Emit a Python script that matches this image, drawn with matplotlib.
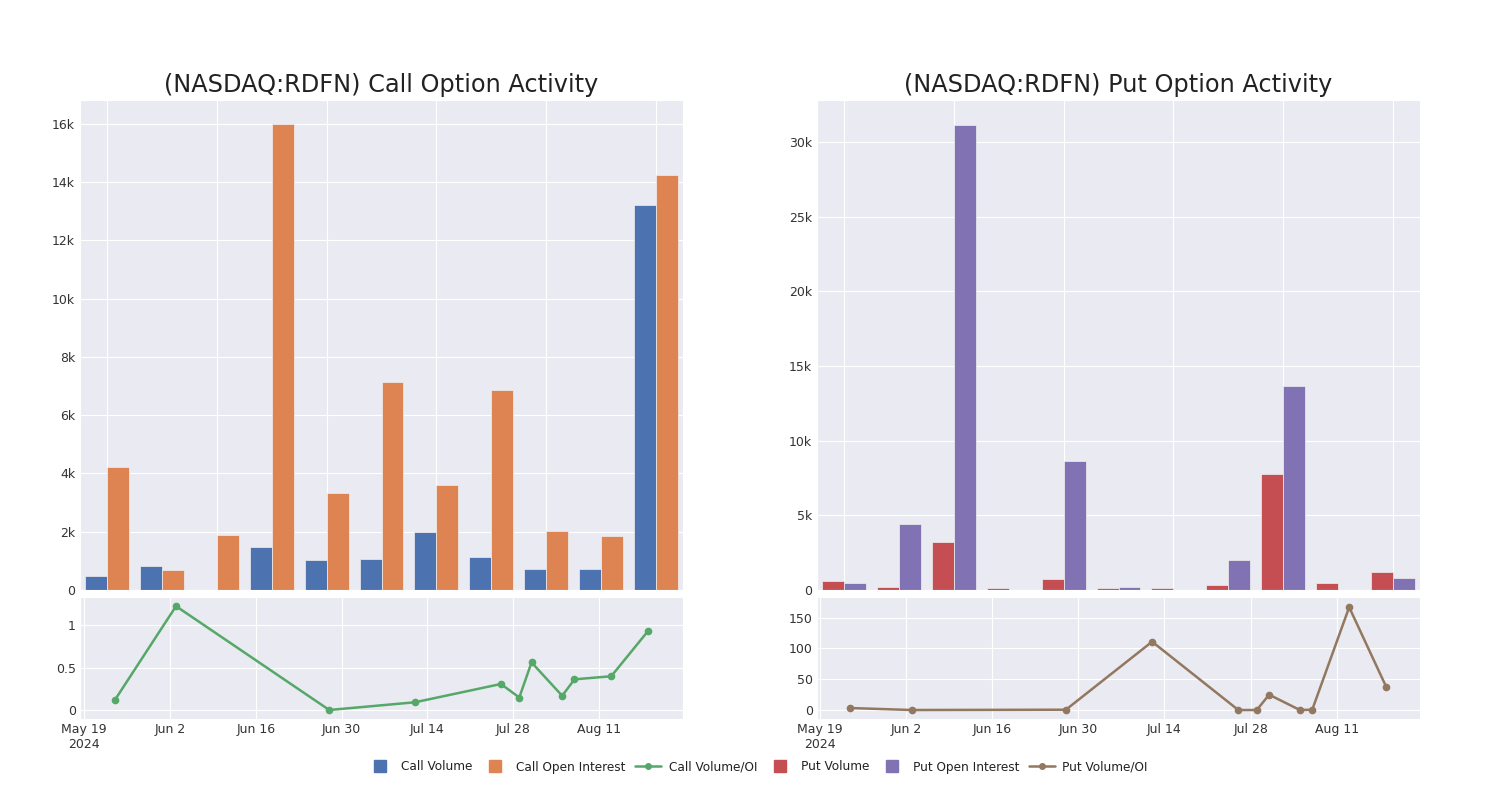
import numpy as np
import pandas as pd
import matplotlib
matplotlib.use("Agg")
import matplotlib.pyplot as plt
from matplotlib.lines import Line2D
from matplotlib.ticker import FuncFormatter
import seaborn as sns

# ---------------- data ----------------
call_volume = [480, 820, 0, 1460, 1030, 1050, 1990, 1120, 730, 730, 13200]
call_oi = [4210, 670, 1900, 15980, 3330, 7130, 3590, 6850, 2040, 1850, 14230]
put_volume = [620, 170, 3180, 130, 760, 120, 130, 330, 7750, 470, 1220]
put_oi = [490, 4430, 31160, 0, 8640, 210, 0, 2000, 13630, 0, 780]

ratio_dates = ["2024-05-24", "2024-06-03", "2024-06-28", "2024-07-12", "2024-07-26",
               "2024-07-29", "2024-07-31", "2024-08-05", "2024-08-07", "2024-08-13",
               "2024-08-19"]
call_ratio = [0.115, 1.222, 0.0, 0.091, 0.306, 0.147, 0.56, 0.167, 0.361, 0.397, 0.929]
put_ratio = [3.2, 0.0, 0.5, 111, 0.0, 0.0, 24.9, 0.0, 0.5, 167, 37.9]

date_ticks = ["2024-05-19", "2024-06-02", "2024-06-16", "2024-06-30", "2024-07-14",
              "2024-07-28", "2024-08-11"]
date_tick_labels = ["May 19\n2024", "Jun 2", "Jun 16", "Jun 30", "Jul 14", "Jul 28", "Aug 11"]

titles = ["(NASDAQ:RDFN) Call Option Activity", "(NASDAQ:RDFN) Put Option Activity"]
legend_labels = ["Call Volume", "Call Open Interest", "Call Volume/OI",
                 "Put Volume", "Put Open Interest", "Put Volume/OI"]

# ---------------- style ----------------
sns.set_style("darkgrid")
plt.rcParams['font.family'] = ['DejaVu Sans']
pal = sns.color_palette("deep")
c_blue, c_orange, c_green, c_red, c_purple, c_brown = pal[0], pal[1], pal[2], pal[3], pal[4], pal[5]

fig = plt.figure(figsize=(15, 8), dpi=100)
W, H = 1500, 800


def ax_at(x0, y0, x1, y1):
    return fig.add_axes([x0 / W, 1 - y1 / H, (x1 - x0) / W, (y1 - y0) / H])


def kfmt(v, pos):
    if v == 0:
        return "0"
    return f"{int(round(v / 1000))}k"


panels = [
    dict(x0=80, x1=683, vol=call_volume, oi=call_oi, ratio=call_ratio,
         cv=c_blue, co=c_orange, cl=c_green, ylim=(0, 16810), yt=np.arange(0, 16001, 2000),
         rlim=(-0.106, 1.33), rt=[0, 0.5, 1], rtl=["0", "0.5", "1"],
         xlim=("2024-05-18 08:00", "2024-08-24 17:00"), title=titles[0]),
    dict(x0=817, x1=1420, vol=put_volume, oi=put_oi, ratio=put_ratio,
         cv=c_red, co=c_purple, cl=c_brown, ylim=(0, 32800), yt=np.arange(0, 30001, 5000),
         rlim=(-14.6, 183.6), rt=[0, 50, 100, 150], rtl=["0", "50", "100", "150"],
         xlim=("2024-05-18 14:00", "2024-08-24 12:00"), title=titles[1]),
]

tick_color = "#333333"
for p in panels:
    ax = ax_at(p["x0"], 100, p["x1"], 590)
    x = np.arange(len(p["vol"]))
    ax.bar(x - 0.2, p["vol"], width=0.4, color=p["cv"], edgecolor="#f0f0f0", linewidth=0.5)
    ax.bar(x + 0.2, p["oi"], width=0.4, color=p["co"], edgecolor="#f0f0f0", linewidth=0.5)
    ax.set_xlim(-0.5, len(x) - 0.5)
    ax.set_xticks(x[::2])
    ax.set_xticklabels([])
    ax.set_ylim(*p["ylim"])
    ax.set_yticks(p["yt"])
    ax.yaxis.set_major_formatter(FuncFormatter(kfmt))
    ax.tick_params(axis="both", length=0, labelsize=9, colors=tick_color)
    ax.set_title(p["title"], fontsize=17.3, color="#222222", pad=6)

    bx = ax_at(p["x0"], 597, p["x1"], 719)
    d = pd.to_datetime(ratio_dates)
    bx.plot(d, p["ratio"], color=p["cl"], marker="o", markersize=4.5, linewidth=1.8)
    bx.set_xlim(pd.Timestamp(p["xlim"][0]), pd.Timestamp(p["xlim"][1]))
    bx.set_xticks(pd.to_datetime(date_ticks))
    bx.set_xticklabels(date_tick_labels)
    bx.set_ylim(*p["rlim"])
    bx.set_yticks(p["rt"])
    bx.set_yticklabels(p["rtl"])
    bx.tick_params(axis="both", length=0, labelsize=9, colors=tick_color, pad=3)

handles = [
    Line2D([], [], linestyle="none", marker="s", markersize=9, color=c_blue),
    Line2D([], [], linestyle="none", marker="s", markersize=9, color=c_orange),
    Line2D([], [], color=c_green, marker="o", markersize=4, linewidth=1.8),
    Line2D([], [], linestyle="none", marker="s", markersize=9, color=c_red),
    Line2D([], [], linestyle="none", marker="s", markersize=9, color=c_purple),
    Line2D([], [], color=c_brown, marker="o", markersize=4, linewidth=1.8),
]
fig.legend(handles, legend_labels, loc="center", bbox_to_anchor=(0.505, 1 - 767 / H),
           ncol=6, frameon=False, fontsize=8.7, handlelength=2.2, columnspacing=0.8,
           handletextpad=0.6, labelcolor="#222222")

fig.savefig("out.png", dpi=100)
